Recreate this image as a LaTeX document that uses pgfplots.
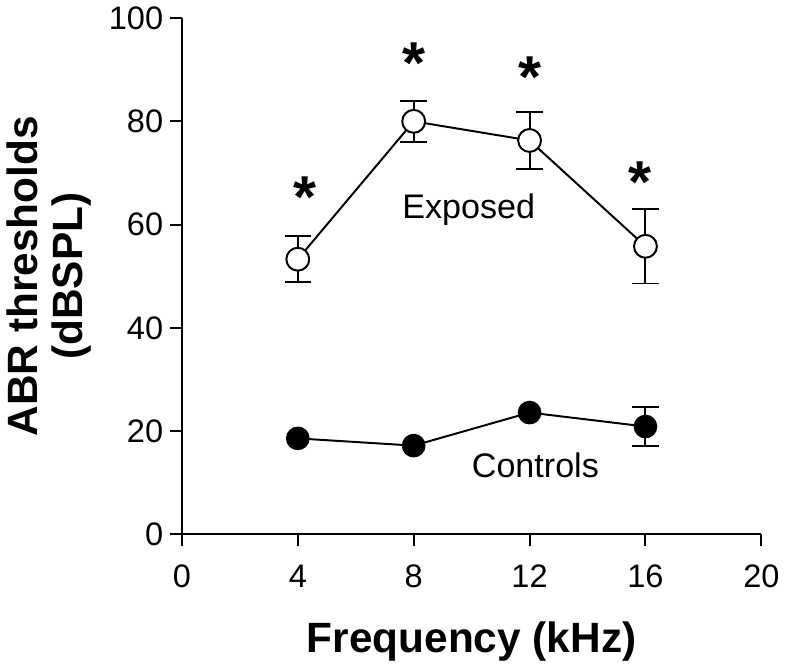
\documentclass[border=0pt]{standalone}
\usepackage{fontspec}
\setmainfont{Liberation Sans}
\usepackage{pgfplots}
\pgfplotsset{compat=1.18}

\begin{document}
\begin{tikzpicture}
\begin{axis}[
  scale only axis,
  width=294pt, height=262pt,
  xmin=0, xmax=20, ymin=0, ymax=100,
  xtick={0,4,...,20}, ytick={0,20,...,100},
  axis x line*=bottom, axis y line*=left,
  axis line style={line width=1pt, -},
  tick style={line width=1pt, black},
  tick align=outside, major tick length=6pt,
  ticklabel style={font=\fontsize{16.5}{18}\selectfont},
  xticklabel style={yshift=-6pt},
  /pgf/number format/assume math mode=true,
  xlabel={\bfseries Frequency (kHz)},
  ylabel={\bfseries ABR thresholds\\\bfseries (dBSPL)},
  label style={font=\fontsize{21.5}{23}\selectfont, align=center},
  xlabel style={yshift=-10pt},
  ylabel style={yshift=2pt},
  clip=false,
]
% Exposed
\addplot[black, line width=1pt, mark=*, mark size=5.8pt,
  mark options={fill=white, line width=1pt},
  error bars/.cd, y dir=both, y explicit,
  error mark options={rotate=90, mark size=6.7pt, line width=1pt},
  error bar style={line width=1pt}]
  coordinates {
  (4,53.3) +- (0,4.5)
  (8,80.0) +- (0,4.0)
  (12,76.3) +- (0,5.6)
  (16,55.8) +- (0,7.2)
  };
% Controls: error bar visible only at 16 kHz
\addplot[black, line width=1pt, mark=none, forget plot,
  error bars/.cd, y dir=both, y explicit,
  error mark options={rotate=90, mark size=6.7pt, line width=1pt},
  error bar style={line width=1pt}]
  coordinates {(16,20.9) +- (0,3.7)};
\addplot[black, line width=1pt, mark=*, mark size=5.5pt,
  mark options={fill=black}]
  coordinates {(4,18.6) (8,17.2) (12,23.6) (16,20.9)};
% significance asterisks
\addplot[only marks, mark=none, nodes near coords={*},
  every node near coord/.append style={anchor=center, inner sep=0pt,
    font=\fontsize{30}{30}\selectfont\bfseries}]
  coordinates {(4.25,65.3) (8.0,91.3) (12.0,88.5) (15.8,68.3)};
\node[font=\fontsize{17.3}{19}\selectfont] at (axis cs:9.9,62.9) {Exposed};
\node[font=\fontsize{17.3}{19}\selectfont] at (axis cs:12.2,13.3) {Controls};
\end{axis}
\end{tikzpicture}
\end{document}
